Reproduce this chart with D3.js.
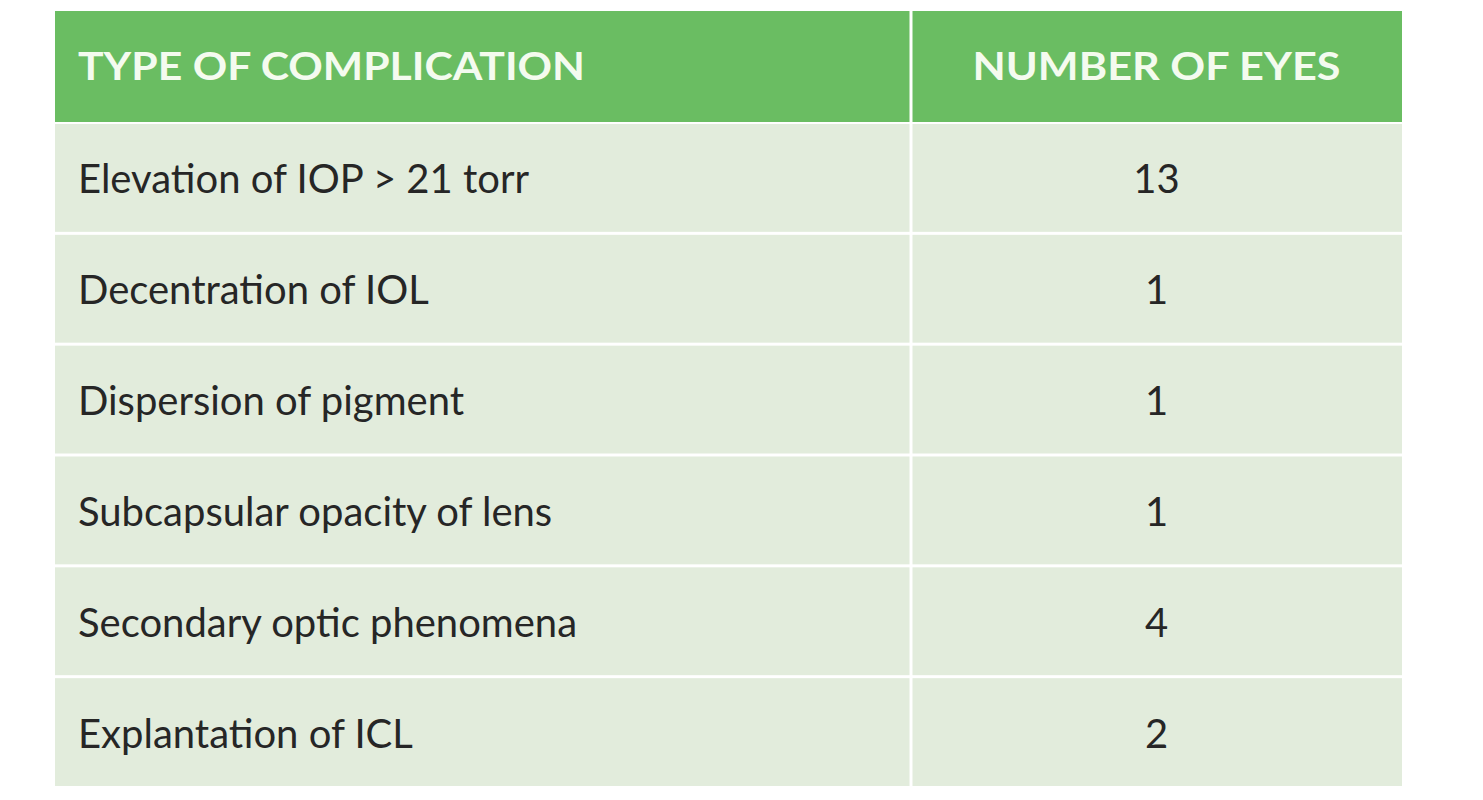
<!DOCTYPE html>
<html><head><meta charset="utf-8">
<script src="https://cdn.jsdelivr.net/npm/d3@7"></script>
<style>body{margin:0;background:#fff}</style>
</head><body>
<svg id="chart" width="1483" height="800"></svg>
<script>
const headers = ['TYPE OF COMPLICATION', 'NUMBER OF EYES'];
const complications = ['Elevation of IOP > 21 torr', 'Decentration of IOL', 'Dispersion of pigment',
  'Subcapsular opacity of lens', 'Secondary optic phenomena', 'Explantation of ICL'];
const eyes = [13, 1, 1, 1, 4, 2];

const svg = d3.select('#chart');
const tLeft = 55, tRight = 1402, split = 911, tTop = 11, headH = 111;
const y = d3.scaleBand().domain(d3.range(complications.length)).range([tTop + headH, 787]);
const font = 'Lato, "Noto Sans", sans-serif';

// header
svg.append('rect').attr('x', tLeft).attr('y', tTop).attr('width', tRight - tLeft).attr('height', headH).attr('fill', '#6abd62');
svg.append('line').attr('x1', split).attr('x2', split).attr('y1', tTop).attr('y2', tTop + headH)
  .attr('stroke', '#fff').attr('stroke-width', 3);
svg.append('text').attr('x', 78).attr('y', tTop + headH / 2).attr('dy', '0.35em')
  .attr('fill', '#f4fbef').attr('font-family', font).attr('font-weight', 700).attr('font-size', 38)
  .attr('textLength', 507).attr('lengthAdjust', 'spacingAndGlyphs').text(headers[0]);
svg.append('text').attr('x', (split + tRight) / 2).attr('y', tTop + headH / 2).attr('dy', '0.35em')
  .attr('text-anchor', 'middle').attr('fill', '#f4fbef').attr('font-family', font).attr('font-weight', 700)
  .attr('font-size', 38).attr('textLength', 368).attr('lengthAdjust', 'spacingAndGlyphs').text(headers[1]);

// body rows
const rows = svg.selectAll('g.row').data(complications).enter().append('g').attr('class', 'row')
  .attr('transform', (d, i) => `translate(0,${y(i)})`);
rows.append('rect').attr('x', tLeft).attr('y', 2).attr('width', split - tLeft - 1.5).attr('height', y.bandwidth() - 3).attr('fill', '#e2ecdc');
rows.append('rect').attr('x', split + 1.5).attr('y', 2).attr('width', tRight - split - 1.5).attr('height', y.bandwidth() - 3).attr('fill', '#e2ecdc');
rows.append('text').attr('x', 78).attr('y', y.bandwidth() / 2 + 2).attr('dy', '0.35em')
  .attr('fill', '#262626').attr('font-family', font).attr('font-size', 40).text(d => d);
rows.append('text').attr('x', (split + tRight) / 2).attr('y', y.bandwidth() / 2 + 2).attr('dy', '0.35em')
  .attr('text-anchor', 'middle').attr('fill', '#262626').attr('font-family', font).attr('font-size', 40)
  .text((d, i) => eyes[i]);
</script>
</body></html>
